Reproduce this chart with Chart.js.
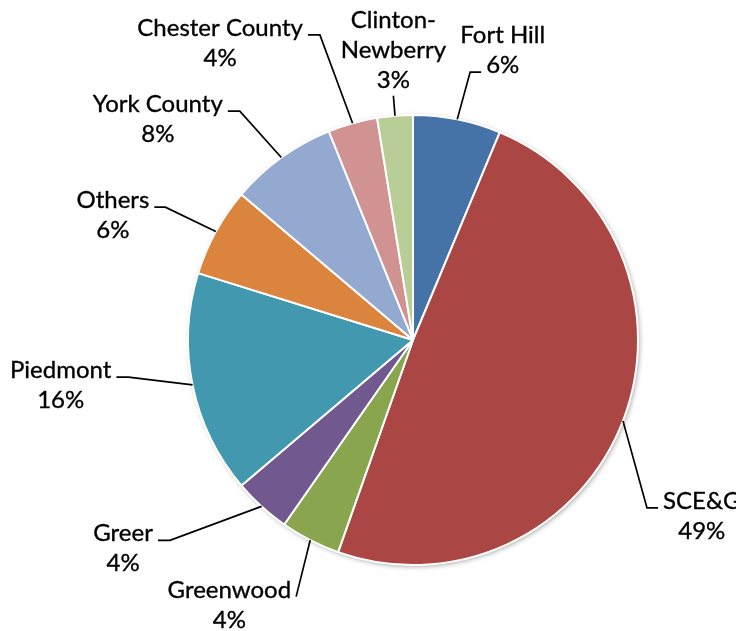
<!DOCTYPE html>
<html>
<head>
<meta charset="utf-8">
<script src="https://cdn.jsdelivr.net/npm/chart.js@4"></script>
<style>
    html, body { margin: 0; padding: 0; background: #fff; }
</style>
</head>
<body>
<canvas id="grafico" width="736" height="631"></canvas>
<script>
var categorias = ['Fort Hill', 'SCE&G', 'Greenwood', 'Greer', 'Piedmont', 'Others', 'York County', 'Chester County', 'Clinton-Newberry'];
var valores = [6.3, 49.1, 4.3, 4.1, 16.0, 6.4, 7.7, 3.55, 2.55];
var cores = ['#4572A7', '#AA4643', '#89A54E', '#71588F', '#4198AF', '#DB843D', '#93A9CF', '#D19392', '#B9CD96'];

// onde cada rotulo fica: giro (graus) e distancia alem da borda
var rotuloGiro = [0.7, 14.6, -2.7, 8.2, 4.1, -0.6, -1.3, -1.4, 0];
var rotuloAlcance = [49, 63, 57, 90, 62, 56, 62, 94, 20];
var rotuloLinha = [1, 0, 0, 0, 0, 0, 0, 0, -1]; // linha do texto onde a guia encosta, -1 = por baixo
var rotuloGancho = [11, 11, 0, 12, 12, 11, 12, 12, 0];

var fonte = '24px Lato';
var alturaLinha = 30;

var rotulos = {
    id: 'rotulos',
    beforeDatasetsDraw: function (chart) {
        // sombra leve em volta da pizza
        var a = chart.getDatasetMeta(0).data[0];
        var ctx = chart.ctx;
        ctx.save();
        ctx.shadowColor = 'rgba(0,0,0,0.35)';
        ctx.shadowBlur = 5;
        ctx.shadowOffsetX = 1.5;
        ctx.shadowOffsetY = 1.5;
        ctx.fillStyle = '#fff';
        ctx.beginPath();
        ctx.arc(a.x, a.y, a.outerRadius, 0, Math.PI * 2);
        ctx.fill();
        ctx.restore();
    },
    afterDatasetsDraw: function (chart) {
        var ctx = chart.ctx;
        var arcos = chart.getDatasetMeta(0).data;
        var total = valores.reduce(function (s, v) { return s + v; }, 0);
        ctx.save();
        ctx.font = fonte;
        ctx.fillStyle = '#000';
        ctx.strokeStyle = '#000';
        ctx.textAlign = 'center';
        ctx.textBaseline = 'alphabetic';
        arcos.forEach(function (a, i) {
            var meio = (a.startAngle + a.endAngle) / 2;
            var r = a.outerRadius;
            var x0 = a.x + r * Math.cos(meio);
            var y0 = a.y + r * Math.sin(meio);
            var ang = meio + rotuloGiro[i] * Math.PI / 180;
            var x1 = a.x + (r + rotuloAlcance[i]) * Math.cos(ang);
            var y1 = a.y + (r + rotuloAlcance[i]) * Math.sin(ang);
            var lado = x1 >= a.x ? 1 : -1;
            var x2 = x1 + lado * rotuloGancho[i];

            ctx.lineWidth = 1.7;
            ctx.beginPath();
            ctx.moveTo(x0, y0);
            ctx.lineTo(x1, y1);
            ctx.lineTo(x2, y1);
            ctx.stroke();

            var linhas = categorias[i].split(/(?<=-)/);
            linhas.push(Math.round(valores[i] / total * 100) + '%');

            var k = rotuloLinha[i];
            var cx, base0;
            if (k >= 0) {
                var w = ctx.measureText(linhas[k]).width;
                cx = x2 + lado * 5 + lado * w / 2;
                base0 = y1 + 1 - k * alturaLinha;
            } else {
                cx = x1;
                base0 = y1 - 8 - (linhas.length - 1) * alturaLinha;
            }
            ctx.lineWidth = 0.35;
            linhas.forEach(function (t, j) {
                ctx.fillText(t, cx, base0 + j * alturaLinha);
                ctx.strokeText(t, cx, base0 + j * alturaLinha);
            });
        });
        ctx.restore();
    }
};

var ctx = document.getElementById('grafico').getContext('2d');
var grafico = new Chart(ctx, {
    type: 'pie',
    data: {
        labels: categorias,
        datasets: [{
            data: valores,
            backgroundColor: cores,
            borderColor: '#fff',
            borderWidth: 2
        }]
    },
    options: {
        responsive: false,
        animation: false,
        radius: 225,
        events: [],
        layout: {
            padding: { left: 170, right: 80, top: 100, bottom: 51 }
        },
        plugins: {
            legend: { display: false },
            tooltip: { enabled: false }
        }
    },
    plugins: [rotulos]
});
</script>
</body>
</html>
